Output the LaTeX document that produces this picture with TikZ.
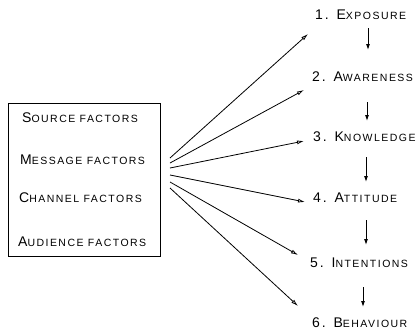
\documentclass[tikz,border=0pt]{standalone}
\usepackage{fontspec}
\setmainfont{Liberation Sans}
\newfontfamily\labfont[LetterSpace=14]{Liberation Sans}
\usetikzlibrary{arrows.meta}
\newcommand{\bigc}[1]{{\fontsize{14}{14}\selectfont #1}}
\newcommand{\smc}[1]{{\fontsize{10.5}{10.5}\selectfont #1}}
\begin{document}
\begin{tikzpicture}[x=1pt,y=-1pt,
  lab/.style={anchor=west,inner sep=0pt,font=\labfont},
  fan/.style={line width=0.8pt,-{Latex[length=7pt,width=4pt,open]}},
  down/.style={line width=0.9pt,-{Latex[length=6pt,width=4pt]}}]
\useasboundingbox (0,0) rectangle (416,335);
% left box
\node[draw,line width=0.9pt,minimum width=152pt,minimum height=153pt,inner sep=0pt,anchor=north west] (box) at (8,103) {};
\node[lab] (src) at (22,118) {\bigc{S}\smc{OURCE FACTORS}};
\node[lab] (msg) at (20,160) {\bigc{M}\smc{ESSAGE FACTORS}};
\node[lab] (chn) at (19,198) {\bigc{C}\smc{HANNEL FACTORS}};
\node[lab] (aud) at (18,242) {\bigc{A}\smc{UDIENCE FACTORS}};
% right labels
\node[lab] (s1) at (315,15) {\bigc{1. E}\smc{XPOSURE}};
\node[lab] (s2) at (312,77) {\bigc{2. A}\smc{WARENESS}};
\node[lab] (s3) at (313,137) {\bigc{3. K}\smc{NOWLEDGE}};
\node[lab] (s4) at (313,198) {\bigc{4. A}\smc{TTITUDE}};
\node[lab] (s5) at (310,263) {\bigc{5. I}\smc{NTENTIONS}};
\node[lab] (s6) at (312,323) {\bigc{6. B}\smc{EHAVIOUR}};
% fan coordinates
\coordinate (f1) at (170,158); \coordinate (t1) at (308,34);
\coordinate (f2) at (170,163); \coordinate (t2) at (304,90);
\coordinate (f3) at (170,168); \coordinate (t3) at (304,141);
\coordinate (f4) at (170,175); \coordinate (t4) at (305,202);
\coordinate (f5) at (170,182); \coordinate (t5) at (298,255);
\coordinate (f6) at (170,188); \coordinate (t6) at (298,306);
\foreach \i in {1,...,6} \draw[fan] (f\i) -- (t\i);
% vertical arrows
\coordinate (a1) at (368,28); \coordinate (b1) at (368,50);
\coordinate (a2) at (367,102); \coordinate (b2) at (367,121);
\coordinate (a3) at (366,157); \coordinate (b3) at (366,182);
\coordinate (a4) at (366,220); \coordinate (b4) at (366,245);
\coordinate (a5) at (363,287); \coordinate (b5) at (363,307);
\foreach \i in {1,...,5} \draw[down] (a\i) -- (b\i);
\end{tikzpicture}
\end{document}
